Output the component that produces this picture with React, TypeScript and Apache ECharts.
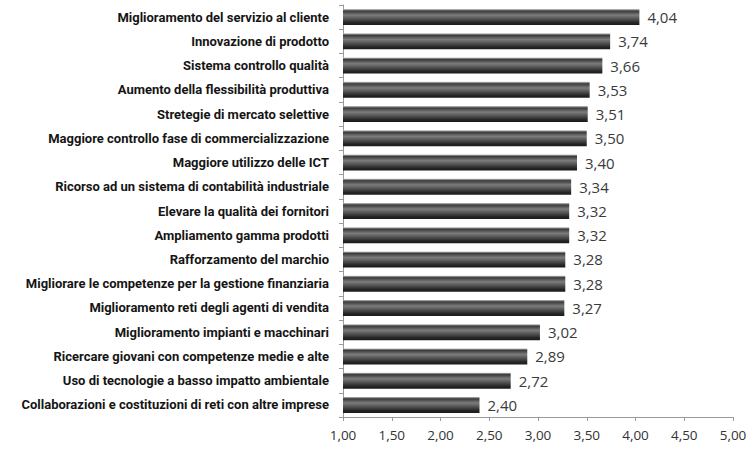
import React, { useEffect, useRef } from "react";
import * as echarts from "echarts";

const categories = [
  "Miglioramento del servizio al cliente",
  "Innovazione di prodotto",
  "Sistema controllo qualità",
  "Aumento della flessibilità produttiva",
  "Stretegie di mercato selettive",
  "Maggiore controllo fase di commercializzazione",
  "Maggiore utilizzo delle ICT",
  "Ricorso ad un sistema di contabilità industriale",
  "Elevare la qualità dei fornitori",
  "Ampliamento gamma prodotti",
  "Rafforzamento del marchio",
  "Migliorare le competenze per la gestione finanziaria",
  "Miglioramento reti degli agenti di vendita",
  "Miglioramento impianti e macchinari",
  "Ricercare giovani con competenze medie e alte",
  "Uso di tecnologie a basso impatto ambientale",
  "Collaborazioni e costituzioni di reti con altre imprese",
];

const values = [4.04, 3.74, 3.66, 3.53, 3.51, 3.5, 3.4, 3.34, 3.32, 3.32, 3.28, 3.28, 3.27, 3.02, 2.89, 2.72, 2.4];

const axisMin = 1;
const axisMax = 5;
const axisStep = 0.5;

const fmt = (v: number) => v.toFixed(2).replace(".", ",");

export default function App() {
  const ref = useRef<HTMLDivElement>(null);
  useEffect(() => {
    if (!ref.current) return;
    const chart = echarts.init(ref.current, undefined, { renderer: "svg" });
    chart.setOption({
      animation: false,
      backgroundColor: "#ffffff",
      grid: { left: 343, right: 17, top: 5, bottom: 41, containLabel: false },
      xAxis: {
        type: "value",
        min: axisMin,
        max: axisMax,
        interval: axisStep,
        splitLine: { show: false },
        axisLine: { show: true, lineStyle: { color: "#9a9a9a", width: 1 } },
        axisTick: { show: true, length: 4, lineStyle: { color: "#9a9a9a" } },
        axisLabel: {
          formatter: (v: number) => fmt(v),
          color: "#333333",
          fontSize: 13.5,
          fontFamily: "Open Sans",
          margin: 11,
        },
      },
      yAxis: {
        type: "category",
        inverse: true,
        data: categories,
        axisLine: { show: true, lineStyle: { color: "#9a9a9a", width: 1 } },
        axisTick: { show: true, length: 4, lineStyle: { color: "#9a9a9a" } },
        axisLabel: {
          color: "#151515",
          fontSize: 13,
          fontWeight: "bold",
          fontFamily: "Roboto",
          margin: 14,
        },
      },
      series: [
        {
          type: "bar",
          data: values,
          barWidth: 16,
          itemStyle: {
            color: new echarts.graphic.LinearGradient(0, 0, 0, 1, [
              { offset: 0, color: "#c4c4c4" },
              { offset: 0.12, color: "#3a3a3a" },
              { offset: 0.38, color: "#7c7c7c" },
              { offset: 0.6, color: "#555555" },
              { offset: 0.85, color: "#262626" },
              { offset: 1, color: "#1a1a1a" },
            ]),
          },
          label: {
            show: true,
            position: "right",
            distance: 8,
            formatter: (p: any) => fmt(p.value),
            color: "#3a3a3a",
            fontSize: 15,
            fontFamily: "Open Sans",
          },
        },
      ],
    });
    return () => chart.dispose();
  }, []);
  return <div ref={ref} style={{ width: 750, height: 458, position: "absolute", left: 0, top: 0 }} />;
}
